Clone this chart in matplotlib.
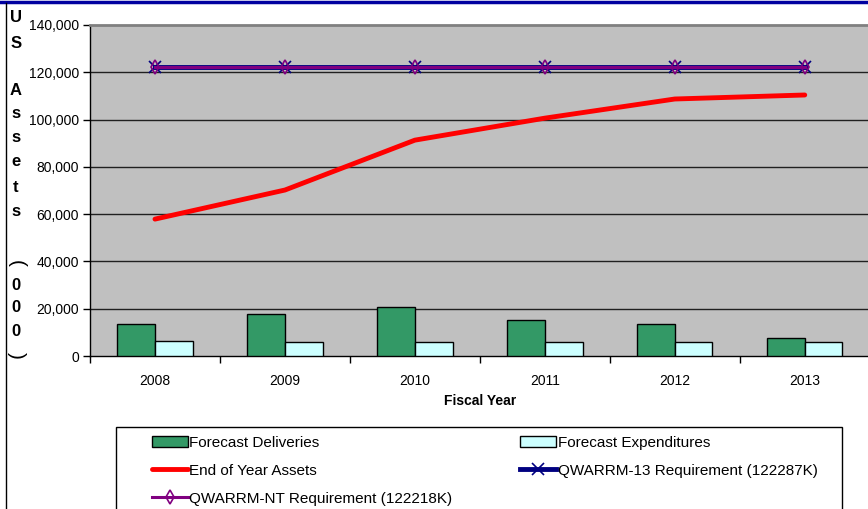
import numpy as np
import matplotlib
matplotlib.use('Agg')
import matplotlib.pyplot as plt
from matplotlib.lines import Line2D
from matplotlib.patches import Rectangle

plt.rcParams['font.family'] = ['Liberation Sans', 'DejaVu Sans']

years = ['2008', '2009', '2010', '2011', '2012', '2013']
deliveries = [13400, 17800, 20800, 15200, 13400, 7500]
expenditures = [6300, 5800, 5800, 5800, 5800, 5800]
assets = [57900, 70200, 91300, 100600, 108700, 110400]
req13 = [122287] * 6
reqnt = [122218] * 6
yticks = [0, 20000, 40000, 60000, 80000, 100000, 120000, 140000]

W, H = 868, 509
fig = plt.figure(figsize=(W / 100, H / 100), dpi=100)
ax = fig.add_axes([90 / W, 1 - 356 / H, 1 - 90 / W + 0.002, (356 - 25) / H])
ax.set_facecolor('#C0C0C0')

x = np.arange(len(years))
bw = 0.29
b1 = ax.bar(x - bw / 2, deliveries, bw, color='#339966', edgecolor='black', linewidth=1,
            zorder=3)
b2 = ax.bar(x + bw / 2, expenditures, bw, color='#CCFFFF', edgecolor='black', linewidth=1,
            zorder=3)
l1, = ax.plot(x, assets, color='#FF0000', linewidth=3.5, zorder=4, solid_capstyle='round')
l2, = ax.plot(x, req13, color='#000080', linewidth=3.5, marker='x', markersize=8,
              markeredgewidth=1.2, zorder=5)
l3, = ax.plot(x, reqnt, color='#800080', linewidth=2.2, marker='d', markersize=7,
              markerfacecolor='none', markeredgewidth=1.2, zorder=6)

ax.set_xlim(-0.5, len(years) - 0.5)
ax.set_ylim(0, 140000)
ax.set_yticks(yticks)
ax.set_yticklabels([f'{v:,}' for v in yticks], fontsize=10)
for v in yticks[1:-1]:
    ax.axhline(v, color='#202020', linewidth=1, zorder=1)
ax.set_xticks(x)
ax.set_xticklabels(years, fontsize=10)
ax.set_xticks(np.arange(len(years) + 1) - 0.5, minor=True)
ax.tick_params(axis='x', which='major', length=0, pad=13)
ax.tick_params(axis='x', which='minor', length=5, direction='out', width=1)
ax.tick_params(axis='y', length=5, direction='out', width=1, pad=3)
ax.set_xlabel('Fiscal Year', fontsize=10, fontweight='bold', labelpad=4)

ax.spines['right'].set_visible(False)
ax.spines['top'].set_color('#808080')
ax.spines['top'].set_linewidth(2)
ax.spines['left'].set_linewidth(1)
ax.spines['bottom'].set_linewidth(1)

# vertical y-label letters
letters = ['U', 'S', 'A', 's', 's', 'e', 't', 's', '(', '0', '0', '0', ')']
ypos = [18, 43, 90, 113, 137, 162, 187, 212, 263, 285, 308, 332, 355]
for ch, yy in zip(letters, ypos):
    if ch in '()':
        fig.text(16 / W, 1 - yy / H, ch, ha='center', va='center', fontsize=15,
                 rotation=-90)
    else:
        fig.text(16 / W, 1 - yy / H, ch, ha='center', va='center', fontsize=12,
                 fontweight='bold')

# border lines
fig.add_artist(Line2D([0, 1], [1 - 1.5 / H, 1 - 1.5 / H], color='#0000A0', linewidth=2.5))
fig.add_artist(Line2D([6 / W, 6 / W], [0, 1 - 3 / H], color='black', linewidth=1))

# legend frame
fig.add_artist(Rectangle((116 / W, -0.05), (842 - 116) / W, 0.05 + 1 - 427 / H,
                         fill=False, edgecolor='black', linewidth=1))
# matplotlib fills columns first: col 1 = del, assets, NT ; col 2 = exp, Q13
handles = [b1, l1, l3, b2, l2]
labels = ['Forecast Deliveries', 'End of Year Assets', 'QWARRM-NT Requirement (122218K)',
          'Forecast Expenditures', 'QWARRM-13 Requirement (122287K)']
leg = fig.legend(handles, labels,
                 loc='upper left', bbox_to_anchor=(144 / W, 1 - 428 / H), ncol=2,
                 frameon=False, fontsize=11, handlelength=2.35, handletextpad=0.1,
                 columnspacing=4.45, labelspacing=0.92, borderpad=0)

fig.savefig('out.png', dpi=100)
